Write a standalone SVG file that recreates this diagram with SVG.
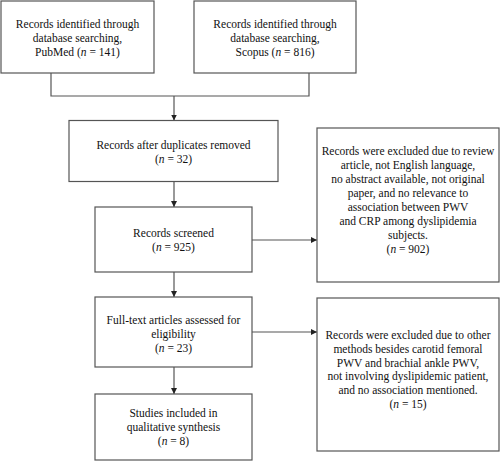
<svg xmlns="http://www.w3.org/2000/svg" width="500" height="461" viewBox="0 0 500 461">
<defs>
<style>
.box{fill:#fff;stroke:#555;stroke-width:1.2}
.t{font-family:"Liberation Serif","Times New Roman","DejaVu Serif",serif;font-size:11.5px;fill:#111;text-anchor:middle}
.c{fill:none;stroke:#555;stroke-width:1.2}
</style>
<marker id="ah" viewBox="0 0 10 10" refX="10" refY="5" markerWidth="6" markerHeight="6" markerUnits="userSpaceOnUse" orient="auto">
<path d="M0,0 L10,5 L0,10 Z" fill="#222"/>
</marker>
</defs>
<rect width="500" height="461" fill="#fff"/>
<g id="connectors">
<polyline class="c" points="51,73 51,96 309,96 309,73"/>
<line class="c" x1="174" y1="96" x2="174" y2="120.5" marker-end="url(#ah)"/>
<line class="c" x1="174" y1="181.5" x2="174" y2="207" marker-end="url(#ah)"/>
<line class="c" x1="252" y1="240" x2="317" y2="240" marker-end="url(#ah)"/>
<line class="c" x1="174" y1="272" x2="174" y2="297" marker-end="url(#ah)"/>
<line class="c" x1="252" y1="332" x2="317" y2="332" marker-end="url(#ah)"/>
<line class="c" x1="174" y1="367" x2="174" y2="394" marker-end="url(#ah)"/>
</g>
<g id="pubmed">
<rect class="box" x="1" y="1" width="153" height="72"/>
<text class="t" x="77.5" y="28">Records identified through</text>
<text class="t" x="77.5" y="42">database searching,</text>
<text class="t" x="77.5" y="56">PubMed (<tspan font-style="italic">n</tspan> = 141)</text>
</g>
<g id="scopus">
<rect class="box" x="194" y="1" width="162" height="72"/>
<text class="t" x="275" y="28">Records identified through</text>
<text class="t" x="275" y="42">database searching,</text>
<text class="t" x="275" y="56">Scopus (<tspan font-style="italic">n</tspan> = 816)</text>
</g>
<g id="duplicates">
<rect class="box" x="69" y="120.5" width="209" height="61"/>
<text class="t" x="173.5" y="149">Records after duplicates removed</text>
<text class="t" x="173.5" y="163">(<tspan font-style="italic">n</tspan> = 32)</text>
</g>
<g id="screened">
<rect class="box" x="95" y="207" width="157" height="65"/>
<text class="t" x="173.5" y="236.5">Records screened</text>
<text class="t" x="173.5" y="250.5">(<tspan font-style="italic">n</tspan> = 925)</text>
</g>
<g id="excluded1">
<rect class="box" x="317" y="128" width="182" height="154"/>
<text class="t" x="408" y="155">Records were excluded due to review</text>
<text class="t" x="408" y="169">article, not English language,</text>
<text class="t" x="408" y="183">no abstract available, not original</text>
<text class="t" x="408" y="197">paper, and no relevance to</text>
<text class="t" x="408" y="211">association between PWV</text>
<text class="t" x="408" y="225">and CRP among dyslipidemia</text>
<text class="t" x="408" y="239">subjects.</text>
<text class="t" x="408" y="253">(<tspan font-style="italic">n</tspan> = 902)</text>
</g>
<g id="fulltext">
<rect class="box" x="95" y="297" width="157" height="70"/>
<text class="t" x="173.5" y="323.5">Full-text articles assessed for</text>
<text class="t" x="173.5" y="337.5">eligibility</text>
<text class="t" x="173.5" y="351.5">(<tspan font-style="italic">n</tspan> = 23)</text>
</g>
<g id="excluded2">
<rect class="box" x="317" y="298" width="182" height="153"/>
<text class="t" x="408" y="338.5">Records were excluded due to other</text>
<text class="t" x="408" y="352.5">methods besides carotid femoral</text>
<text class="t" x="408" y="366.5">PWV and brachial ankle PWV,</text>
<text class="t" x="408" y="380">not involving dyslipidemic patient,</text>
<text class="t" x="408" y="394">and no association mentioned.</text>
<text class="t" x="408" y="408">(<tspan font-style="italic">n</tspan> = 15)</text>
</g>
<g id="included">
<rect class="box" x="95" y="394" width="157" height="66"/>
<text class="t" x="173.5" y="416.5">Studies included in</text>
<text class="t" x="173.5" y="430.5">qualitative synthesis</text>
<text class="t" x="173.5" y="444.5">(<tspan font-style="italic">n</tspan> = 8)</text>
</g>
</svg>
